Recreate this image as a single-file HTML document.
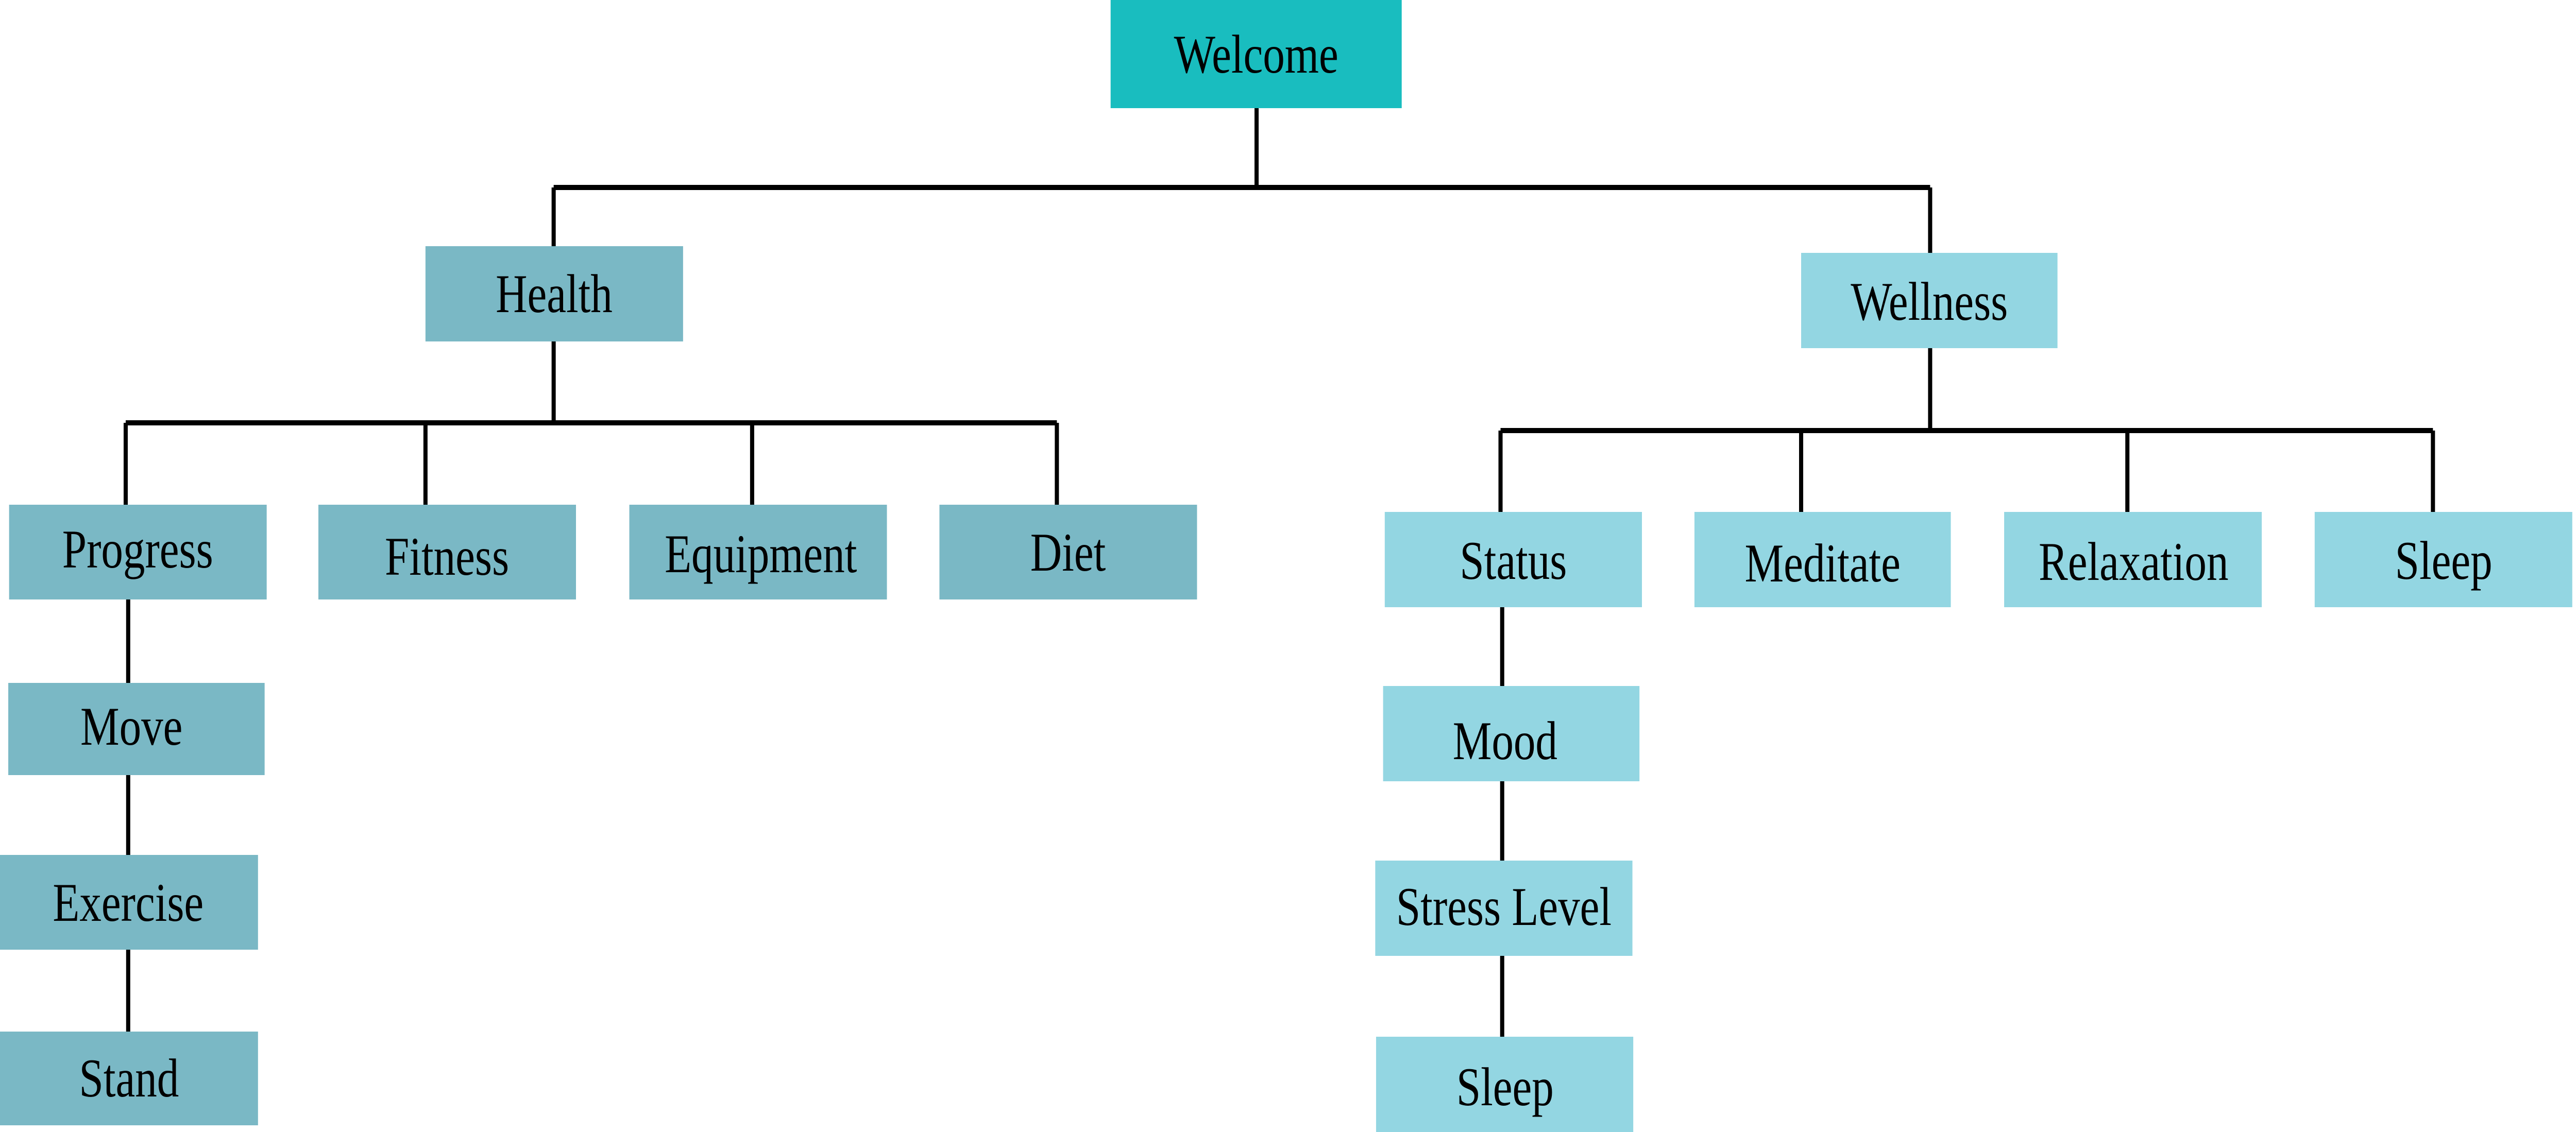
<!DOCTYPE html>
<html><head><meta charset="utf-8"><style>
html,body{margin:0;padding:0;background:#fff;width:100%;height:100%;overflow:hidden;}
svg{display:block;width:100vw;height:100vh;}
text{font-family:"Liberation Serif","Times New Roman",serif;font-size:106px;fill:#000;text-anchor:middle;dominant-baseline:central;}
</style></head><body>
<svg viewBox="0 0 6230 2198" preserveAspectRatio="none" xmlns="http://www.w3.org/2000/svg">
<g stroke="#000" stroke-width="10" fill="none">
<line x1="3039" y1="210" x2="3039" y2="364"/>
<line x1="1339" y1="364" x2="4668" y2="364"/>
<line x1="1339" y1="364" x2="1339" y2="478"/>
<line x1="4668" y1="364" x2="4668" y2="491"/>
<line x1="1339" y1="663" x2="1339" y2="821"/>
<line x1="304" y1="821" x2="2556" y2="821"/>
<line x1="304" y1="821" x2="304" y2="980"/>
<line x1="1029" y1="821" x2="1029" y2="980"/>
<line x1="1819" y1="821" x2="1819" y2="980"/>
<line x1="2556" y1="821" x2="2556" y2="980"/>
<line x1="310" y1="1164" x2="310" y2="2003"/>
<line x1="4668" y1="676" x2="4668" y2="836"/>
<line x1="3629" y1="836" x2="5884" y2="836"/>
<line x1="3629" y1="836" x2="3629" y2="994"/>
<line x1="4356" y1="836" x2="4356" y2="994"/>
<line x1="5145" y1="836" x2="5145" y2="994"/>
<line x1="5884" y1="836" x2="5884" y2="994"/>
<line x1="3633" y1="1179" x2="3633" y2="2013"/>
</g>
<rect x="2686" y="0" width="704" height="210" fill="#19BDBF"/>
<g fill="#7AB8C5">
<rect x="1029" y="478" width="623" height="185"/>
<rect x="22" y="980" width="623" height="184"/>
<rect x="770" y="980" width="623" height="184"/>
<rect x="1522" y="980" width="623" height="184"/>
<rect x="2272" y="980" width="623" height="184"/>
<rect x="20" y="1326" width="620" height="179"/>
<rect x="0" y="1660" width="624" height="184"/>
<rect x="0" y="2003" width="624" height="182"/>
</g>
<g fill="#93D6E2">
<rect x="4356" y="491" width="620" height="185"/>
<rect x="3349" y="994" width="622" height="185"/>
<rect x="4098" y="994" width="620" height="185"/>
<rect x="4847" y="994" width="623" height="185"/>
<rect x="5598" y="994" width="623" height="185"/>
<rect x="3345" y="1332" width="620" height="185"/>
<rect x="3326" y="1671" width="622" height="185"/>
<rect x="3328" y="2013" width="622" height="185"/>
</g>
<text x="3038" y="105">Welcome</text>
<text x="1340" y="570">Health</text>
<text x="4666" y="585">Wellness</text>
<text x="333" y="1066">Progress</text>
<text x="1081" y="1080">Fitness</text>
<text x="1840" y="1075">Equipment</text>
<text x="2583" y="1072">Diet</text>
<text x="318" y="1410">Move</text>
<text x="310" y="1752">Exercise</text>
<text x="312" y="2093">Stand</text>
<text x="3660" y="1088">Status</text>
<text x="4408" y="1093">Meditate</text>
<text x="5160" y="1090">Relaxation</text>
<text x="5910" y="1088">Sleep</text>
<text x="3640" y="1438">Mood</text>
<text x="3637" y="1760">Stress Level</text>
<text x="3640" y="2110">Sleep</text>
</svg>
</body></html>
